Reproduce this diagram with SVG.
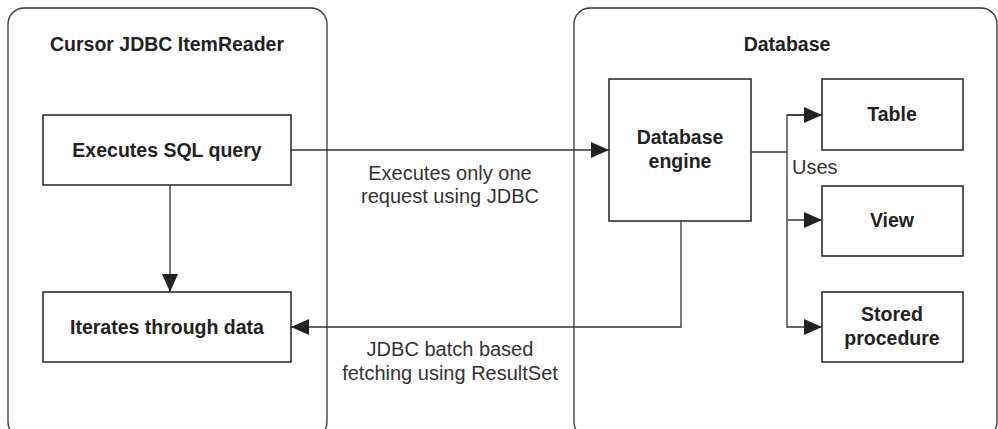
<svg xmlns="http://www.w3.org/2000/svg" width="998" height="429" viewBox="0 0 998 429">
<defs>
<style>
.cont{fill:#fff;stroke:#333;stroke-width:1.3}
.box{fill:#fff;stroke:#222;stroke-width:1.5}
.ln{fill:none;stroke:#333;stroke-width:1.3}
.b{font-family:"Liberation Sans",Arial,sans-serif;font-weight:bold;font-size:19.5px;fill:#222;text-anchor:middle}
.r{font-family:"Liberation Sans",Arial,sans-serif;font-size:20px;fill:#333;text-anchor:middle}
</style>
<marker id="ah" viewBox="0 0 18 16" refX="18" refY="8" markerWidth="18" markerHeight="16" markerUnits="userSpaceOnUse" orient="auto">
<path d="M0,0 L18,8 L0,16 Z" fill="#222"/>
</marker>
</defs>
<rect width="998" height="429" fill="#fff"/>
<g id="reader">
<rect class="cont" x="8" y="8" width="319" height="430" rx="16"/>
<text class="b" x="167" y="51">Cursor JDBC ItemReader</text>
</g>
<g id="database">
<rect class="cont" x="574" y="8" width="423" height="430" rx="16"/>
<text class="b" x="787" y="51">Database</text>
</g>
<g id="executes">
<rect class="box" x="43" y="115" width="248" height="70"/>
<text class="b" x="167" y="157">Executes SQL query</text>
</g>
<g id="iterates">
<rect class="box" x="43" y="292" width="248" height="70"/>
<text class="b" x="167" y="334">Iterates through data</text>
</g>
<g id="engine">
<rect class="box" x="609" y="79" width="142" height="142"/>
<text class="b" x="680" y="144">Database</text>
<text class="b" x="680" y="168">engine</text>
</g>
<g id="table">
<rect class="box" x="822" y="79" width="141" height="71"/>
<text class="b" x="892" y="121">Table</text>
</g>
<g id="view">
<rect class="box" x="822" y="186" width="141" height="70"/>
<text class="b" x="892" y="227">View</text>
</g>
<g id="stored">
<rect class="box" x="822" y="292" width="141" height="70"/>
<text class="b" x="892" y="321">Stored</text>
<text class="b" x="892" y="345">procedure</text>
</g>
<g id="connectors">
<line class="ln" x1="170" y1="185" x2="170" y2="292" marker-end="url(#ah)"/>
<line class="ln" x1="291" y1="150" x2="609" y2="150" marker-end="url(#ah)"/>
<polyline class="ln" points="681,221 681,327 291,327" marker-end="url(#ah)"/>
<polyline class="ln" points="751,152 787,152"/>
<polyline class="ln" points="822,115 787,115 787,327 822,327" marker-end="url(#ah)"/>
<line class="ln" x1="787" y1="115" x2="822" y2="115" marker-end="url(#ah)"/>
<line class="ln" x1="788" y1="220" x2="822" y2="220" marker-end="url(#ah)"/>
<text class="r" x="450" y="180">Executes only one</text>
<text class="r" x="450" y="203">request using JDBC</text>
<text class="r" x="450" y="356">JDBC batch based</text>
<text class="r" x="450" y="380">fetching using ResultSet</text>
<text class="r" x="792" y="174" style="text-anchor:start">Uses</text>
</g>
</svg>
